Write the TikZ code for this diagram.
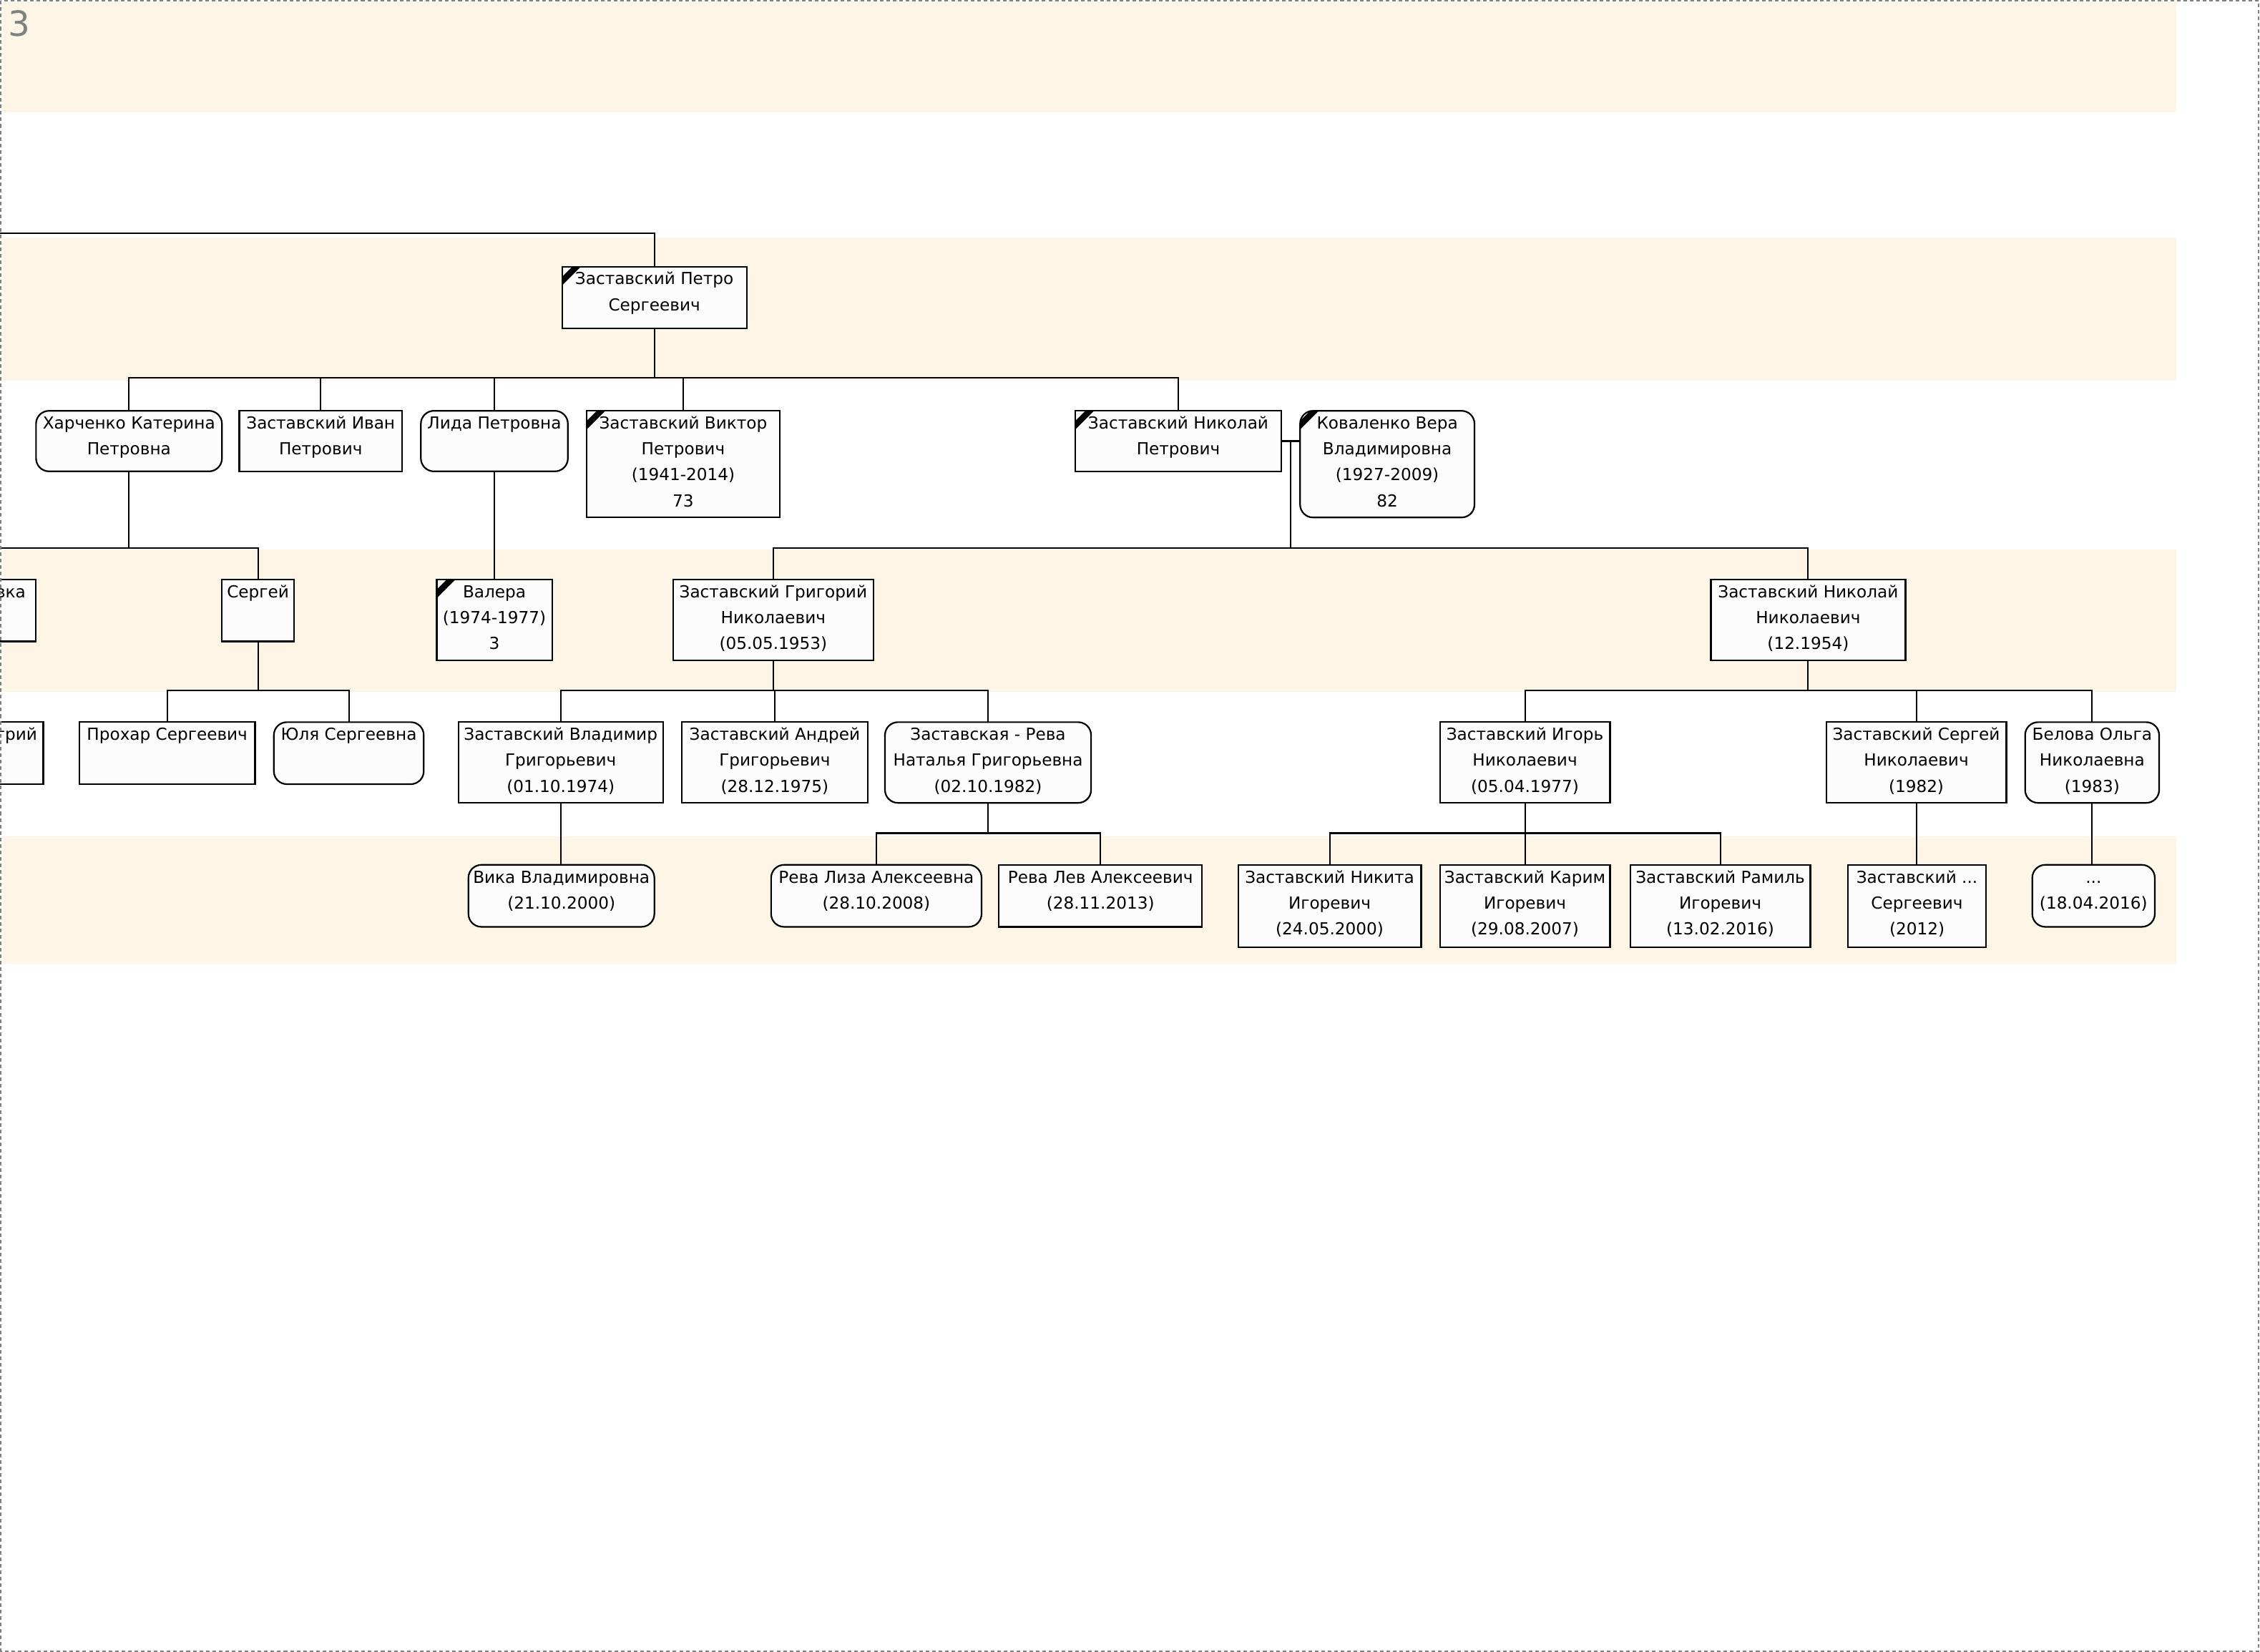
\documentclass[tikz,border=0pt]{standalone}
\usepackage{fontspec}
\setmainfont{DejaVu Sans}
\usetikzlibrary{calc}
\definecolor{band}{RGB}{253,246,230}
\definecolor{boxfill}{RGB}{252,252,252}
\definecolor{framegray}{RGB}{128,128,128}
\newcommand\pfont{\fontsize{11.5}{18}\selectfont}
\newcommand\lns[1]{\begin{tabular}[t]{@{}c@{}}#1\end{tabular}}
\tikzset{
  pbox/.style={draw=black, fill=boxfill, line width=1.1pt, outer sep=0pt, inner sep=0pt},
  prect/.style={pbox},
  pround/.style={pbox, rounded corners=9pt},
  ptext/.style={anchor=base, inner sep=0pt, font=\pfont},
  link/.style={draw=black, line width=1pt},
}
\newcommand\person[7]{%
  \node[#2, minimum width={#5-#3}, minimum height={#6-#4}, anchor=north west] (#1) at (#3,#4) {};
  \node[ptext] (#1-t) at ([yshift=-12.5pt]#1.north) {\lns{#7}};}
\newcommand\deadmark[1]{%
  \fill[black] ([yshift=-7pt]#1.north west) -- ([yshift=-13pt]#1.north west)
    -- ([xshift=13pt]#1.north west) -- ([xshift=7pt]#1.north west) -- cycle;}
\begin{document}
\begin{tikzpicture}[x=1pt,y=-1pt]
\useasboundingbox (0,0) rectangle (1568,1146.08);
\begin{scope}
\clip (0,0) rectangle (1568,1146.08);
% bands
\fill[band] (1.5,1.5) rectangle (1510,78);
\fill[band] (1.5,165) rectangle (1510,264);
\fill[band] (1.5,381) rectangle (1510,480);
\fill[band] (1.5,580) rectangle (1510,668.5);
% page label
\node[anchor=base west, inner sep=0pt, text=framegray, font=\fontsize{24}{28}\selectfont] (pagenum) at (5.5,25) {3};

% generation 1
\person{petro}{prect}{390}{185}{518}{228}{Заставский Петро\\Сергеевич}
\deadmark{petro}
% generation 2
\person{kat}{pround}{25}{285}{154}{327}{Харченко Катерина\\Петровна}
\person{ivan}{prect}{166}{285}{279}{327}{Заставский Иван\\Петрович}
\person{lida}{pround}{292}{285}{394}{327}{Лида Петровна}
\person{viktor}{prect}{407}{285}{541}{359}{Заставский Виктор\\Петрович\\(1941-2014)\\73}
\deadmark{viktor}
\person{nik}{prect}{746}{285}{889}{327}{Заставский Николай\\Петрович}
\deadmark{nik}
\person{vera}{pround}{902}{285}{1023}{359}{Коваленко Вера\\Владимировна\\(1927-2009)\\82}
\begin{scope}
\clip[rounded corners=9pt] ([shift={(-0.55pt,0.55pt)}]vera.north west) rectangle ([shift={(0.55pt,-0.55pt)}]vera.south east);
\deadmark{vera}
\end{scope}
% generation 3
\node[prect, minimum width=125, minimum height=43, anchor=north east] (parta) at (25,402) {};
\node[ptext, anchor=base east] (parta-t) at (18,414.5) {вка};
\person{serg}{prect}{154}{402}{204}{445}{Сергей}
\person{valera}{prect}{303}{402}{383}{458}{Валера\\(1974-1977)\\3}
\deadmark{valera}
\person{grig}{prect}{467}{402}{606}{458}{Заставский Григорий\\Николаевич\\(05.05.1953)}
\person{nikn}{prect}{1187}{402}{1322}{458}{Заставский Николай\\Николаевич\\(12.1954)}
% generation 4
\node[prect, minimum width=125, minimum height=43, anchor=north east] (partb) at (30,501) {};
\node[ptext, anchor=base east] (partb-t) at (26,513.5) {грий};
\person{proh}{prect}{55}{501}{177}{544}{Прохар Сергеевич}
\person{yulia}{pround}{190}{501}{294}{544}{Юля Сергеевна}
\person{vlad}{prect}{318}{501}{460}{557}{Заставский Владимир\\Григорьевич\\(01.10.1974)}
\person{andr}{prect}{473}{501}{602}{557}{Заставский Андрей\\Григорьевич\\(28.12.1975)}
\person{nat}{pround}{614}{501}{757}{557}{Заставская - Рева\\Наталья Григорьевна\\(02.10.1982)}
\person{igor}{prect}{999}{501}{1117}{557}{Заставский Игорь\\Николаевич\\(05.04.1977)}
\person{sergn}{prect}{1267}{501}{1392}{557}{Заставский Сергей\\Николаевич\\(1982)}
\person{belova}{pround}{1405}{501}{1498}{557}{Белова Ольга\\Николаевна\\(1983)}
% generation 5
\person{vika}{pround}{325}{600}{454}{643}{Вика Владимировна\\(21.10.2000)}
\person{liza}{pround}{535}{600}{681}{643}{Рева Лиза Алексеевна\\(28.10.2008)}
\person{lev}{prect}{693}{600}{834}{643}{Рева Лев Алексеевич\\(28.11.2013)}
\person{nikita}{prect}{859}{600}{986}{657}{Заставский Никита\\Игоревич\\(24.05.2000)}
\person{karim}{prect}{999}{600}{1117}{657}{Заставский Карим\\Игоревич\\(29.08.2007)}
\person{ramil}{prect}{1131}{600}{1256}{657}{Заставский Рамиль\\Игоревич\\(13.02.2016)}
\person{sergs}{prect}{1282}{600}{1378}{657}{Заставский ...\\Сергеевич\\(2012)}
\person{dots}{pround}{1410}{600}{1495}{643}{...\\(18.04.2016)}

% connectors
\coordinate (topleft) at (0,162);
\draw[link] (topleft) -| (petro.north);
\coordinate (b1) at (petro.south |- 0,262);
\draw[link] (petro.south) -- (b1);
\foreach \c in {kat,ivan,lida,viktor,nik} \draw[link] (b1) -| (\c.north);
\coordinate (m1) at (895.5,306);
\draw[link] (nik.east |- m1) -- (vera.west |- m1);
\coordinate (b2) at (895.5,380);
\draw[link] (m1) -- (b2);
\draw[link] (b2) -| (grig.north);
\draw[link] (b2) -| (nikn.north);
\coordinate (b3) at (kat.south |- 0,380);
\coordinate (leftb3) at (0,380);
\draw[link] (kat.south) -- (b3);
\draw[link] (leftb3) -| (serg.north);
\draw[link] (lida.south) -- (lida.south |- valera.north);
\coordinate (b4) at (serg.south |- 0,479);
\draw[link] (serg.south) -- (b4);
\draw[link] (b4) -| (proh.north);
\draw[link] (b4) -| (yulia.north);
\coordinate (b5) at (grig.south |- 0,479);
\draw[link] (grig.south) -- (b5);
\foreach \c in {vlad,andr,nat} \draw[link] (b5) -| (\c.north);
\coordinate (b6) at (nikn.south |- 0,479);
\draw[link] (nikn.south) -- (b6);
\foreach \c in {igor,sergn,belova} \draw[link] (b6) -| (\c.north);
\draw[link] (vlad.south) -- (vlad.south |- vika.north);
\coordinate (b7) at (nat.south |- 0,578);
\draw[link] (nat.south) -- (b7);
\draw[link] (b7) -| (liza.north);
\draw[link] (b7) -| (lev.north);
\coordinate (b8) at (igor.south |- 0,578);
\draw[link] (igor.south) -- (b8);
\foreach \c in {nikita,karim,ramil} \draw[link] (b8) -| (\c.north);
\draw[link] (sergn.south) -- (sergn.south |- sergs.north);
\draw[link] (belova.south) -- (belova.south |- dots.north);
\end{scope}
% page frame
\draw[framegray, line width=1pt, dash pattern=on 2.5pt off 2pt] (0.6,0.6) rectangle (1567.2,1145.4);
\end{tikzpicture}
\end{document}
